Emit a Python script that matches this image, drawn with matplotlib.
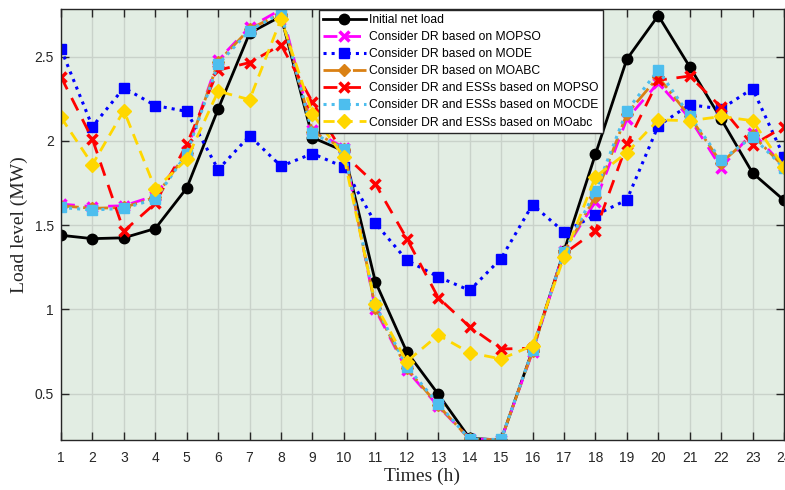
import numpy as np
import matplotlib
matplotlib.use('Agg')
import matplotlib.pyplot as plt


# hourly load values (MW)
hours = np.arange(1, 25)
initial = [1.44, 1.42, 1.425, 1.48, 1.72, 2.19, 2.64, 2.74, 2.02, 1.94, 1.165, 0.748,
           0.497, 0.235, 0.225, 0.758, 1.345, 1.92, 2.485, 2.744, 2.44, 2.13, 1.81, 1.648]
dr_mopso = [1.625, 1.61, 1.615, 1.675, 1.94, 2.48, 2.675, 2.78, 2.065, 1.96, 1.0, 0.64,
            0.425, 0.232, 0.226, 0.748, 1.345, 1.64, 2.13, 2.345, 2.135, 1.84, 2.05, 1.85]
dr_mode = [2.545, 2.085, 2.315, 2.21, 2.175, 1.83, 2.03, 1.85, 1.925, 1.845, 1.512, 1.292,
           1.193, 1.113, 1.302, 1.622, 1.46, 1.56, 1.65, 2.09, 2.215, 2.19, 2.31, 1.905]
dr_moabc = [1.615, 1.6, 1.605, 1.665, 1.93, 2.47, 2.665, 2.755, 2.055, 1.955, 1.01, 0.65,
            0.43, 0.23, 0.226, 0.752, 1.34, 1.67, 2.16, 2.38, 2.145, 1.87, 2.035, 1.845]
ess_mopso = [2.38, 2.01, 1.465, 1.63, 1.98, 2.42, 2.465, 2.57, 2.23, 1.92, 1.745, 1.42,
             1.07, 0.897, 0.765, 0.77, 1.33, 1.466, 1.98, 2.36, 2.385, 2.2, 1.975, 2.085]
ess_mocde = [1.605, 1.59, 1.6, 1.655, 1.925, 2.455, 2.655, 2.76, 2.045, 1.955, 1.025, 0.66,
             0.44, 0.23, 0.228, 0.758, 1.342, 1.70, 2.18, 2.42, 2.15, 1.885, 2.025, 1.84]
ess_moabc = [2.14, 1.86, 2.18, 1.715, 1.89, 2.295, 2.245, 2.725, 2.16, 1.905, 1.03, 0.69,
             0.848, 0.743, 0.706, 0.785, 1.31, 1.787, 1.93, 2.125, 2.12, 2.145, 2.12, 1.845]

labels = ['Initial net load',
          'Consider DR based on MOPSO',
          'Consider DR based on MODE',
          'Consider DR based on MOABC',
          'Consider DR and ESSs based on MOPSO',
          'Consider DR and ESSs based on MOCDE',
          'Consider DR and ESSs based on MOabc']

plt.rcParams['font.family'] = ['Liberation Sans', 'DejaVu Sans']

fig = plt.figure(figsize=(7.85, 4.9), dpi=100)
ax = fig.add_axes([61/785, 50/490, 723/785, 431/490])
ax.set_facecolor('#e2ede3')

ax.plot(hours, initial, '-', color='black', lw=2, marker='o', ms=7.5, label=labels[0])
ax.plot(hours, dr_mopso, '--', color='#ff00ff', lw=2, dashes=(5, 3.5), marker='x', ms=6.5, mew=2.5, label=labels[1])
ax.plot(hours, dr_mode, ':', color='#0000ff', lw=2.2, marker='s', ms=6.5, label=labels[2])
ax.plot(hours, dr_moabc, '-.', color='#da8114', lw=2, marker='D', ms=6.5, label=labels[3])
ax.plot(hours, ess_mopso, '--', color='#ff0000', lw=2, dashes=(5, 3.5), marker='x', ms=6.5, mew=2.5, label=labels[4])
ax.plot(hours, ess_mocde, ':', color='#4dbeee', lw=2.2, marker='s', ms=7, label=labels[5])
ax.plot(hours, ess_moabc, '--', color='#ffd700', lw=2, dashes=(4, 2.5), marker='D', ms=7, label=labels[6])

ax.set_xlim(1, 24)
ax.set_ylim(0.225, 2.783)
ax.set_xticks(hours)
ax.set_yticks([0.5, 1, 1.5, 2, 2.5])
ax.set_yticklabels(['0.5', '1', '1.5', '2', '2.5'])
ax.grid(True, color='#c9d2ca', lw=1)
ax.set_axisbelow(True)
ax.tick_params(direction='in', length=6, width=1, top=True, right=True,
               labelsize=10, colors='#262626')
ax.tick_params(axis='x', pad=8)
ax.tick_params(axis='y', pad=5)
for s in ax.spines.values():
    s.set_color('#262626')
    s.set_linewidth(1)

ax.set_xlabel('Times (h)', family='Liberation Serif', fontsize=14, color='#262626', labelpad=2)
ax.set_ylabel('Load level (MW)', family='Liberation Serif', fontsize=14, color='#262626', labelpad=5)

leg = ax.legend(loc='upper left', bbox_to_anchor=(0.357, 0.998), borderaxespad=0,
                fontsize=8.7, handlelength=3.5, labelspacing=0.42, fancybox=False,
                framealpha=1, edgecolor='#262626', borderpad=0.35, handletextpad=0.3)
leg.get_frame().set_linewidth(1)

fig.savefig('out.png', dpi=100)
